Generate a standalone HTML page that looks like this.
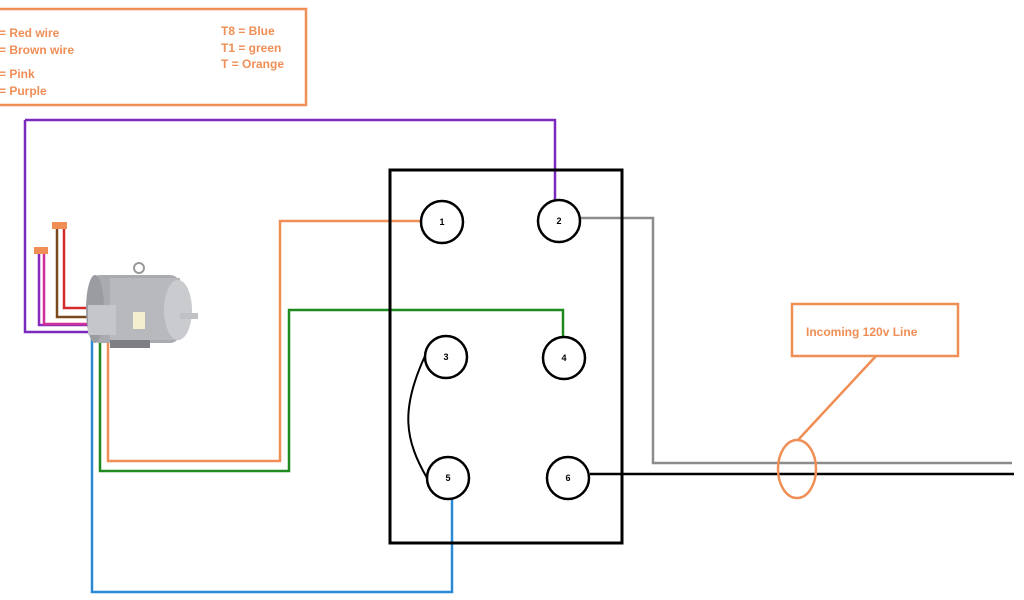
<!DOCTYPE html>
<html><head><meta charset="utf-8"><style>
html,body{margin:0;padding:0;background:#fff;}
svg{display:block;}
text{font-family:"Liberation Sans",sans-serif;font-weight:bold;}
</style></head><body>
<svg width="1024" height="600" viewBox="0 0 1024 600" xmlns="http://www.w3.org/2000/svg">
<rect width="1024" height="600" fill="#fff"/>
<!-- legend -->
<rect x="-5" y="9" width="311" height="96" fill="none" stroke="#ef8e55" stroke-width="2.5"/>
<g fill="#ef8e55" font-size="12">
<text x="-1" y="37">= Red wire</text>
<text x="-1" y="54">= Brown wire</text>
<text x="-1" y="78">= Pink</text>
<text x="-1" y="95">= Purple</text>
<text x="221" y="35">T8 = Blue</text>
<text x="221" y="52">T1 = green</text>
<text x="221" y="68">T = Orange</text>
</g>
<g fill="none" stroke-width="2.5" stroke-linejoin="miter">
<!-- top purple -->
<polyline points="25,120 555,120 555,200" stroke="#7a2bbd"/>
<polyline points="25,120 25,332 92,332" stroke="#7a2bbd"/>
<polyline points="39,253 39,325 92,325" stroke="#8a2bc0"/>
<polyline points="44,253 44,324 92,324" stroke="#d0309a"/>
<polyline points="57,228 57,317 92,317" stroke="#7a4a1e"/>
<polyline points="64,228 64,308 92,308" stroke="#d42a2a"/>
<!-- bottom wires -->
<polyline points="92,335 92,592 452,592 452,499" stroke="#2a8ad6"/>
<polyline points="100,335 100,471 289,471 289,310 563,310 563,337" stroke="#1f8a20"/>
<polyline points="108,335 108,461 280,461 280,221 421,221" stroke="#ef8e55"/>
<!-- gray and black line -->
<polyline points="581,218 653,218 653,463 1012,463" stroke="#8c8c8c"/>
<line x1="590" y1="474" x2="1014" y2="474" stroke="#000"/>
<!-- jumper -->
<path d="M425,356 C400,410 405,440 427,478" stroke="#000" stroke-width="2"/>
</g>
<!-- caps -->
<rect x="34" y="247" width="14" height="7" fill="#ef8e55"/>
<rect x="52" y="222" width="15" height="7" fill="#ef8e55"/>
<!-- motor -->
<g>
<rect x="90" y="275" width="90" height="68" rx="10" fill="#a9abb0"/>
<ellipse cx="95" cy="309" rx="9" ry="34" fill="#9a9ca1"/>
<rect x="110" y="278" width="70" height="62" fill="#b7b9bd"/>
<ellipse cx="178" cy="310" rx="14" ry="30" fill="#c9cbce"/>
<rect x="180" y="313" width="18" height="6" fill="#bfc1c4"/>
<circle cx="139" cy="268" r="5" fill="none" stroke="#999" stroke-width="2"/>
<rect x="88" y="305" width="28" height="30" fill="#c4c6c9"/>
<rect x="133" y="312" width="12" height="17" fill="#f3efcf"/>
<rect x="110" y="340" width="40" height="8" fill="#7d7f83"/>
</g>
<!-- terminal box -->
<rect x="390" y="170" width="232" height="373" fill="none" stroke="#000" stroke-width="3"/>
<g fill="#fff" stroke="#000" stroke-width="2.5">
<circle cx="442" cy="222" r="21"/>
<circle cx="559" cy="221" r="21"/>
<circle cx="446" cy="357" r="21"/>
<circle cx="564" cy="358" r="21"/>
<circle cx="448" cy="478" r="21"/>
<circle cx="568" cy="478" r="21"/>
</g>
<g font-size="9" text-anchor="middle" fill="#000">
<text x="442" y="225">1</text>
<text x="559" y="224">2</text>
<text x="446" y="360">3</text>
<text x="564" y="361">4</text>
<text x="448" y="481">5</text>
<text x="568" y="481">6</text>
</g>
<!-- label -->
<rect x="792" y="304" width="166" height="52" fill="#fff" stroke="#ef8e55" stroke-width="2.5"/>
<text x="806" y="336" font-size="12" fill="#ef8e55">Incoming 120v Line</text>
<line x1="798" y1="440" x2="876" y2="356" stroke="#ef8e55" stroke-width="2.5"/>
<ellipse cx="797" cy="469" rx="19" ry="29" fill="none" stroke="#ef8e55" stroke-width="2.5"/>
</svg>
</body></html>
